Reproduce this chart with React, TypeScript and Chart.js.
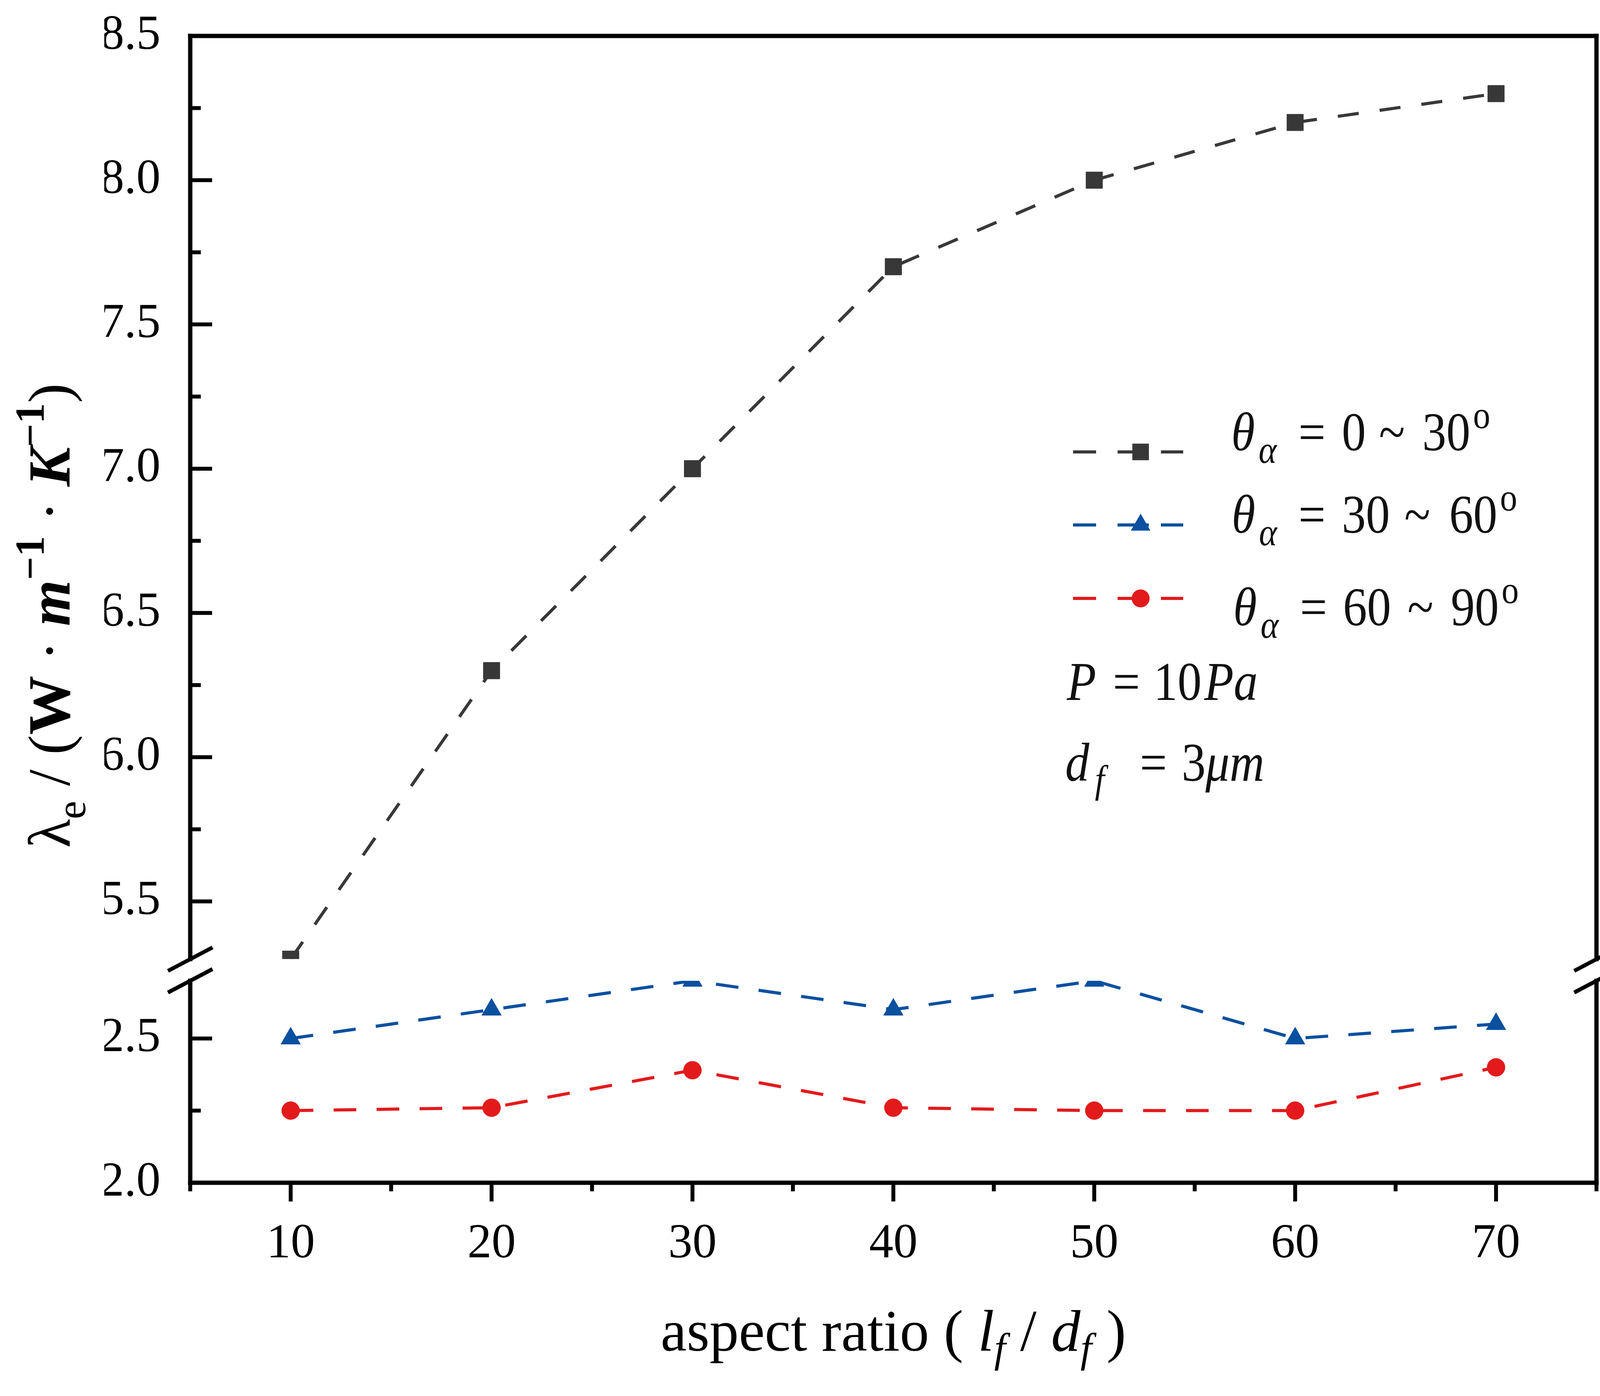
import { useEffect, useRef } from 'react';
import { Chart, registerables } from 'chart.js';
Chart.register(...registerables);

const W = 4182;
const H = 3574;

// x: aspect ratio (lf/df)
const aspectRatio = [10, 20, 30, 40, 50, 60, 70];
// y: effective thermal conductivity, one list per orientation range
const lambdaTheta0to30 = [5.3, 6.3, 7.0, 7.7, 8.0, 8.2, 8.3];
const lambdaTheta30to60 = [2.5, 2.6, 2.7, 2.6, 2.7, 2.5, 2.55];
const lambdaTheta60to90 = [2.25, 2.26, 2.39, 2.26, 2.25, 2.25, 2.4];

const xMajorTicks = [10, 20, 30, 40, 50, 60, 70];
const xMinorTicks = [5, 15, 25, 35, 45, 55, 65, 75];
const upperMajorTicks = [5.5, 6.0, 6.5, 7.0, 7.5, 8.0, 8.5];
const upperMinorTicks = [5.75, 6.25, 6.75, 7.25, 7.75, 8.25];
const lowerMajorTicks = [2.0, 2.5];
const lowerMinorTicks = [2.25];

const SERIF = "'Liberation Serif', 'Times New Roman', serif";

const series = [
  { values: lambdaTheta0to30, axis: 'yUp', color: '#383838', point: 'rect', radius: 30, width: 8, dash: [54, 54] },
  { values: lambdaTheta30to60, axis: 'yLow', color: '#0a50a0', point: 'triangle', radius: 29, width: 8, dash: [58, 52] },
  { values: lambdaTheta60to90, axis: 'yLow', color: '#e31a1c', point: 'circle', radius: 23, width: 8, dash: [58, 52] },
];

const legendRowsY = [1157, 1344, 1532];
const legendSegments = [[2747, 2806], [2861, 2941], [2972, 3029]];
const legendMarkerX = 2920;

function drawMarker(ctx: CanvasRenderingContext2D, style: string, x: number, y: number, r: number) {
  ctx.beginPath();
  if (style === 'rect') {
    const s = r * Math.SQRT1_2;
    ctx.rect(x - s, y - s, 2 * s, 2 * s);
  } else if (style === 'triangle') {
    for (let k = 0; k < 3; k++) {
      const a = (k * 2 * Math.PI) / 3;
      const px = x + Math.sin(a) * r;
      const py = y - Math.cos(a) * r;
      if (k === 0) ctx.moveTo(px, py);
      else ctx.lineTo(px, py);
    }
    ctx.closePath();
  } else {
    ctx.arc(x, y, r, 0, Math.PI * 2);
  }
  ctx.fill();
}

// clip every dataset to its own segment of the broken axis
const segmentClip = {
  id: 'segmentClip',
  beforeDatasetDraw(chart: any, args: any) {
    const ys = args.meta.yScale;
    const { left, right } = chart.chartArea;
    const ctx = chart.ctx;
    ctx.save();
    ctx.beginPath();
    ctx.rect(left, ys.top, right - left, ys.bottom - ys.top);
    ctx.clip();
  },
  afterDatasetDraw(chart: any) {
    chart.ctx.restore();
  },
};

const frame = {
  id: 'frame',
  afterDraw(chart: any) {
    const { ctx, chartArea: a, scales } = chart;
    const up = scales.yUp;
    const low = scales.yLow;
    const xs = scales.x;
    const line = (x1: number, y1: number, x2: number, y2: number) => {
      ctx.beginPath();
      ctx.moveTo(x1, y1);
      ctx.lineTo(x2, y2);
      ctx.stroke();
    };
    ctx.save();
    ctx.strokeStyle = '#000';
    ctx.lineWidth = 11;
    ctx.lineCap = 'square';
    line(a.left, up.top, a.right, up.top);
    line(a.left, low.bottom, a.right, low.bottom);
    for (const sx of [a.left, a.right]) {
      line(sx, up.top, sx, up.bottom);
      line(sx, low.top, sx, low.bottom);
    }

    ctx.lineCap = 'butt';
    ctx.lineWidth = 10;
    // y ticks point inward
    for (const v of upperMajorTicks) { const y = up.getPixelForValue(v); line(a.left, y, a.left + 56, y); }
    for (const v of upperMinorTicks) { const y = up.getPixelForValue(v); line(a.left, y, a.left + 27, y); }
    for (const v of lowerMajorTicks) { const y = low.getPixelForValue(v); line(a.left, y, a.left + 56, y); }
    for (const v of lowerMinorTicks) { const y = low.getPixelForValue(v); line(a.left, y, a.left + 27, y); }
    // x ticks point outward
    for (const v of xMajorTicks) { const x = xs.getPixelForValue(v); line(x, low.bottom, x, low.bottom + 48); }
    for (const v of xMinorTicks) { const x = xs.getPixelForValue(v); line(x, low.bottom, x, low.bottom + 22); }

    // break marks
    for (const sx of [a.left, a.right]) {
      for (const sy of [up.bottom, low.top]) line(sx - 57, sy + 30, sx + 57, sy - 30);
    }

    // legend symbols
    legendRowsY.forEach((y, i) => {
      const s = series[i];
      ctx.strokeStyle = s.color;
      ctx.fillStyle = s.color;
      ctx.lineWidth = s.width;
      for (const [x1, x2] of legendSegments) line(x1, y, x2, y);
      drawMarker(ctx, s.point, legendMarkerX, y, s.radius);
    });
    ctx.restore();
  },
};

type Piece = { t: string; x: number; dy?: number; size?: number; italic?: boolean };

function MathRow({ x0, y0, pieces }: { x0: number; y0: number; pieces: Piece[] }) {
  const k = 0.88;
  return (
    <text transform={`translate(${x0} ${y0}) scale(${k} 1)`} fontSize={140} fontFamily={SERIF} fill="#111">
      {pieces.map((p, i) => (
        <tspan key={i} x={(p.x - x0) / k} y={p.dy ?? 0} fontSize={p.size ?? 140} fontStyle={p.italic ? 'italic' : 'normal'}>
          {p.t}
        </tspan>
      ))}
    </text>
  );
}

function thetaRow(x: number[], a: string, b: string): Piece[] {
  return [
    { t: 'θ', x: x[0], italic: true },
    { t: 'α', x: x[0] + 70, dy: 32, size: 100, italic: true },
    { t: '=', x: x[1] },
    { t: a, x: x[2] },
    { t: '~', x: x[3] },
    { t: b, x: x[4] },
    { t: 'o', x: x[5], dy: -57, size: 100 },
  ];
}

// y scales: keep label half-heights from pushing the plot area down
const noPadFit = (s: any) => {
  s.width = 220;
  s.paddingTop = 0;
  s.paddingBottom = 0;
};

export default function App() {
  const canvasRef = useRef<HTMLCanvasElement>(null);

  useEffect(() => {
    const tickFont = { family: SERIF, size: 124 };
    const chart = new Chart(canvasRef.current!, {
      type: 'line',
      data: {
        datasets: series.map((s) => ({
          data: aspectRatio.map((x, i) => ({ x, y: s.values[i] })),
          yAxisID: s.axis,
          xAxisID: 'x',
          borderColor: s.color,
          backgroundColor: s.color,
          borderWidth: s.width,
          borderDash: s.dash,
          tension: 0,
          pointStyle: s.point,
          pointRadius: s.radius,
          pointBorderWidth: 1,
          pointBorderColor: s.color,
          pointBackgroundColor: s.color,
        })),
      },
      options: {
        animation: false,
        responsive: false,
        devicePixelRatio: 1,
        events: [],
        layout: { padding: { left: 267, right: 95, top: 92, bottom: 320 } },
        plugins: { legend: { display: false }, tooltip: { enabled: false } },
        scales: {
          x: {
            type: 'linear',
            position: 'bottom',
            min: 5,
            max: 75,
            grid: { display: false },
            border: { display: false },
            afterBuildTicks: (s: any) => { s.ticks = xMajorTicks.map((value) => ({ value })); },
            afterFit: (s: any) => { s.height = 226; s.paddingLeft = 0; s.paddingRight = 0; },
            ticks: { font: tickFont, color: '#000', padding: 76, maxRotation: 0, autoSkip: false, callback: (v: any) => String(v) },
          },
          yLow: {
            type: 'linear',
            position: 'left',
            stack: 'y',
            stackWeight: 0.7,
            weight: 1,
            min: 2.0,
            max: 2.7,
            grid: { display: false },
            border: { display: false },
            afterBuildTicks: (s: any) => { s.ticks = lowerMajorTicks.map((value) => ({ value })); },
            afterFit: noPadFit,
            ticks: { font: tickFont, color: '#000', padding: 68, autoSkip: false, callback: (v: any) => Number(v).toFixed(1) },
          },
          yGap: {
            type: 'linear',
            position: 'left',
            stack: 'y',
            stackWeight: 0.075,
            weight: 2,
            grid: { display: false },
            border: { display: false },
            ticks: { display: false },
            afterFit: noPadFit,
          },
          yUp: {
            type: 'linear',
            position: 'left',
            stack: 'y',
            stackWeight: 3.2,
            weight: 3,
            min: 5.3,
            max: 8.5,
            grid: { display: false },
            border: { display: false },
            afterBuildTicks: (s: any) => { s.ticks = upperMajorTicks.map((value) => ({ value })); },
            afterFit: noPadFit,
            ticks: { font: tickFont, color: '#000', padding: 68, autoSkip: false, callback: (v: any) => Number(v).toFixed(1) },
          },
        },
      } as any,
      plugins: [segmentClip, frame],
    });
    return () => chart.destroy();
  }, []);

  return (
    <div style={{ position: 'absolute', left: 0, top: 0, width: W, height: H, background: '#fff', overflow: 'hidden' }}>
      <canvas ref={canvasRef} width={W} height={H} style={{ position: 'absolute', left: 0, top: 0, width: W, height: H }} />
      <svg width={W} height={H} style={{ position: 'absolute', left: 0, top: 0, pointerEvents: 'none' }}>
        {/* legend labels */}
        <MathRow x0={3152} y0={1153} pieces={thetaRow([3152, 3324, 3435, 3530, 3641, 3771], '0', '30')} />
        <MathRow x0={3153} y0={1364} pieces={thetaRow([3153, 3324, 3435, 3595, 3710, 3840], '30', '60')} />
        <MathRow x0={3157} y0={1601} pieces={thetaRow([3157, 3328, 3438, 3603, 3714, 3844], '60', '90')} />
        <MathRow
          x0={2731}
          y0={1792}
          pieces={[
            { t: 'P', x: 2731, italic: true },
            { t: '=', x: 2849 },
            { t: '10', x: 2953 },
            { t: 'Pa', x: 3083, italic: true },
          ]}
        />
        <MathRow
          x0={2727}
          y0={1999}
          pieces={[
            { t: 'd', x: 2727, italic: true },
            { t: 'f', x: 2803, dy: 30, size: 100, italic: true },
            { t: '=', x: 2918 },
            { t: '3', x: 3025 },
            { t: 'μm', x: 3086, italic: true },
          ]}
        />

        {/* y axis title */}
        <text transform="translate(178 1576) rotate(-90)" textAnchor="middle" fontSize={152} fontFamily={SERIF} fill="#000" style={{ whiteSpace: 'pre' }}>
          <tspan>λ</tspan>
          <tspan fontSize={105} dy={40}>e</tspan>
          <tspan dy={-40}>{' / ('}</tspan>
          <tspan fontWeight="bold">W</tspan>
          <tspan>{' · '}</tspan>
          <tspan fontWeight="bold" fontStyle="italic">m</tspan>
          <tspan fontWeight="bold" fontSize={105} dy={-66}>−1</tspan>
          <tspan dy={66}>{' · '}</tspan>
          <tspan fontWeight="bold" fontStyle="italic">K</tspan>
          <tspan fontWeight="bold" fontSize={105} dy={-66}>−1</tspan>
          <tspan dy={66}>)</tspan>
        </text>

        {/* x axis title */}
        <text x={2287} y={3458} textAnchor="middle" fontSize={150} fontFamily={SERIF} fill="#000" style={{ whiteSpace: 'pre' }}>
          <tspan>{'aspect ratio ( '}</tspan>
          <tspan fontStyle="italic">l</tspan>
          <tspan fontStyle="italic" fontSize={105} dy={28}>f</tspan>
          <tspan dy={-28}>{' / '}</tspan>
          <tspan fontStyle="italic">d</tspan>
          <tspan fontStyle="italic" fontSize={105} dy={28}>f</tspan>
          <tspan dy={-28}>{' )'}</tspan>
        </text>
      </svg>
    </div>
  );
}
